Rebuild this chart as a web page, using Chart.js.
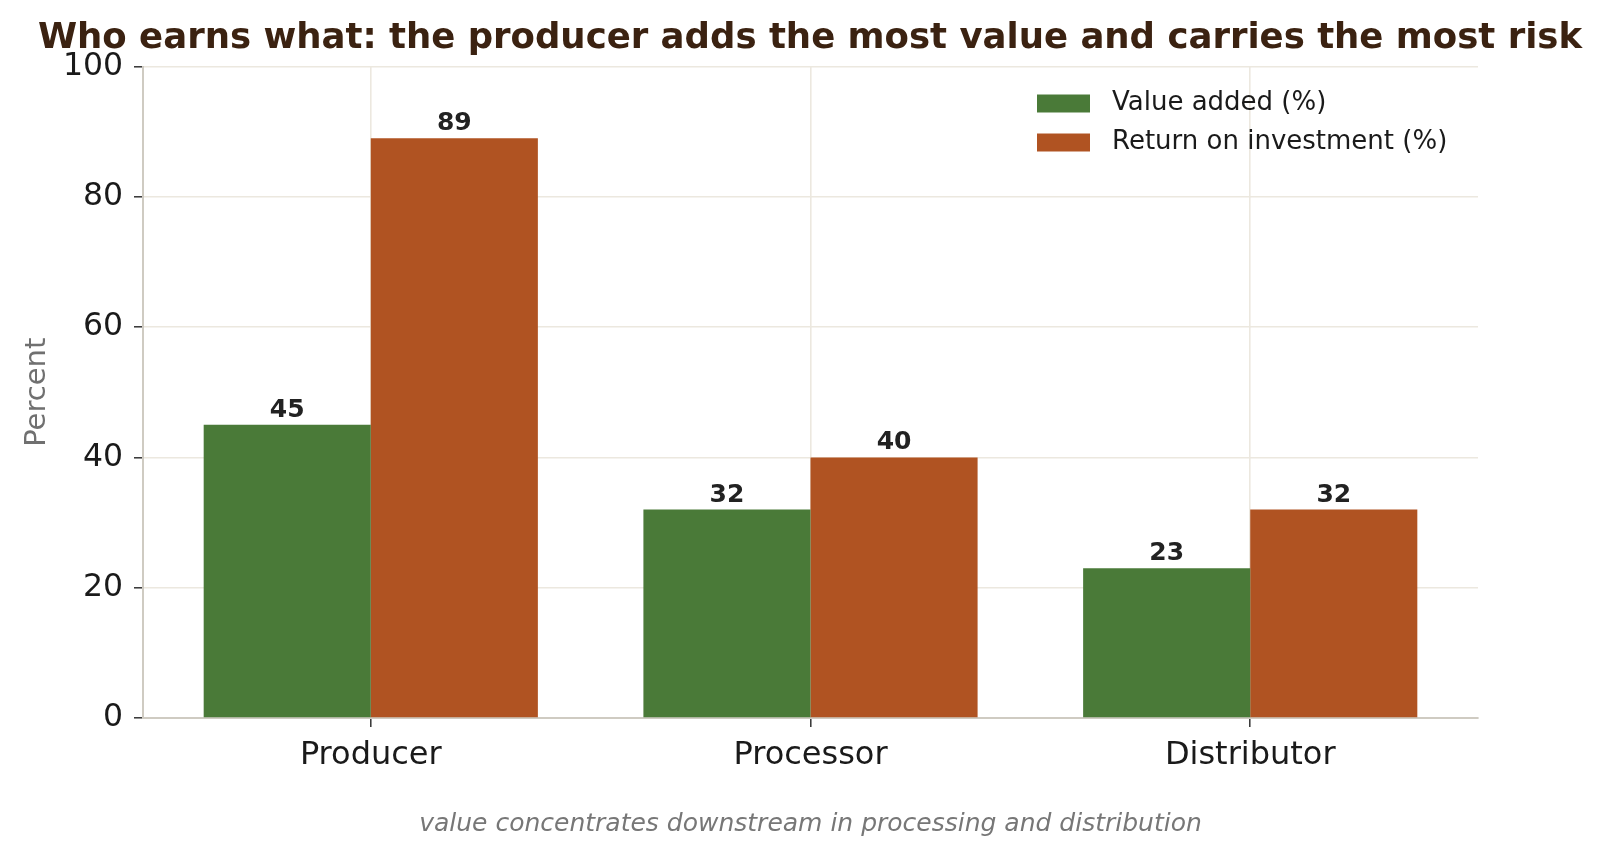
<!DOCTYPE html>
<html><head><meta charset="utf-8">
<script src="https://cdn.jsdelivr.net/npm/chart.js@4.4.1/dist/chart.umd.min.js"></script>
<style>html,body{margin:0;padding:0;background:#fff;}#wrap{width:1600px;height:856px;}</style>
</head><body><div id="wrap"><canvas id="c" width="1600" height="856"></canvas></div>
<script>
const categories = ['Producer', 'Processor', 'Distributor'];
const valueAdded = [45, 32, 23];
const returnOnInvestment = [89, 40, 32];
const seriesLabels = ['Value added (%)', 'Return on investment (%)'];
const yTickValues = [0, 20, 40, 60, 80, 100];
const titleText = 'Who earns what: the producer adds the most value and carries the most risk';
const footnoteText = 'value concentrates downstream in processing and distribution';
const yAxisTitle = 'Percent';

const colors = { green: '#4a7a38', orange: '#b05322', title: '#3b2211', grid: '#ece8df', spine: '#cfcbc2', tick: '#333333', text: '#1a1a1a' };

Chart.defaults.font.family = '"DejaVu Sans", sans-serif';
Chart.defaults.color = colors.text;

const toPoints = arr => arr.map((v, i) => ({ x: i, y: v }));

const barLabels = {
  id: 'barLabels',
  afterDatasetsDraw(chart) {
    const ctx = chart.ctx;
    ctx.save();
    ctx.font = 'bold 25px "DejaVu Sans"';
    ctx.fillStyle = '#222';
    ctx.textAlign = 'center';
    ctx.textBaseline = 'alphabetic';
    chart.data.datasets.forEach((ds, i) => {
      chart.getDatasetMeta(i).data.forEach((el, j) => {
        ctx.fillText(String(ds.data[j].y), el.x, el.y - 8);
      });
    });
    ctx.restore();
  }
};

const legendPlace = {
  id: 'legendPlace',
  afterLayout(chart) {
    const lg = chart.legend; if (!lg) return;
    const a = chart.chartArea;
    lg.left = a.right - 453; lg.right = lg.left + lg.width;
    lg.top = a.top + 16; lg.bottom = a.bottom;
  }
};

new Chart(document.getElementById('c'), {
  type: 'bar',
  data: {
    datasets: [
      { label: seriesLabels[0], data: toPoints(valueAdded), backgroundColor: colors.green, borderWidth: 0 },
      { label: seriesLabels[1], data: toPoints(returnOnInvestment), backgroundColor: colors.orange, borderWidth: 0 }
    ]
  },
  options: {
    responsive: false, animation: false, devicePixelRatio: 1,
    categoryPercentage: 0.76, barPercentage: 1.0,
    layout: { padding: { left: 20, right: 0, top: 0, bottom: 0 } },
    plugins: {
      title: { display: true, text: titleText, fullSize: true, color: colors.title, font: { size: 35.5, weight: 'bold' }, padding: { top: 17, bottom: 7 } },
      subtitle: { display: true, position: 'bottom', fullSize: false, text: footnoteText, color: '#777', font: { size: 25, style: 'italic' }, padding: { top: 18, bottom: 17 } },
      legend: {
        position: 'chartArea', align: 'start',
        labels: {
          boxWidth: 71, boxHeight: 36, padding: 3, color: colors.text, font: { size: 26 },
          generateLabels(chart) {
            const items = Chart.defaults.plugins.legend.labels.generateLabels(chart);
            items.forEach(it => { it.lineWidth = 18; it.strokeStyle = '#ffffff'; });
            return items;
          }
        }
      },
      tooltip: { enabled: false }
    },
    scales: {
      x: {
        type: 'linear', min: -0.518, max: 2.518, offset: false,
        afterBuildTicks(scale) { scale.ticks = categories.map((_, i) => ({ value: i })); },
        afterFit(scale) { scale.height = 73; },
        ticks: { callback: v => categories[v], font: { size: 32 }, color: colors.text, padding: 9, maxRotation: 0 },
        grid: { color: colors.grid, lineWidth: 1.6, tickColor: colors.tick, tickLength: 9, tickWidth: 1.5, offset: false },
        border: { color: colors.spine, width: 2 }
      },
      y: {
        min: 0, max: 100,
        afterBuildTicks(scale) { scale.ticks = yTickValues.map(v => ({ value: v })); },
        afterFit(scale) { scale.width = 123; },
        ticks: { font: { size: 31.5 }, color: colors.text, padding: 11 },
        grid: { color: colors.grid, lineWidth: 1.6, tickColor: colors.tick, tickLength: 9, tickWidth: 1.5 },
        border: { color: colors.spine, width: 2 },
        title: { display: true, text: yAxisTitle, color: '#707070', font: { size: 29 }, padding: { top: 0, bottom: 0 } }
      },
      yRightSpace: {
        position: 'right', display: true,
        afterFit(scale) { scale.width = 122; },
        ticks: { display: false },
        grid: { display: false, drawTicks: false },
        border: { display: false }
      }
    }
  },
  plugins: [barLabels, legendPlace]
});
</script></body></html>
